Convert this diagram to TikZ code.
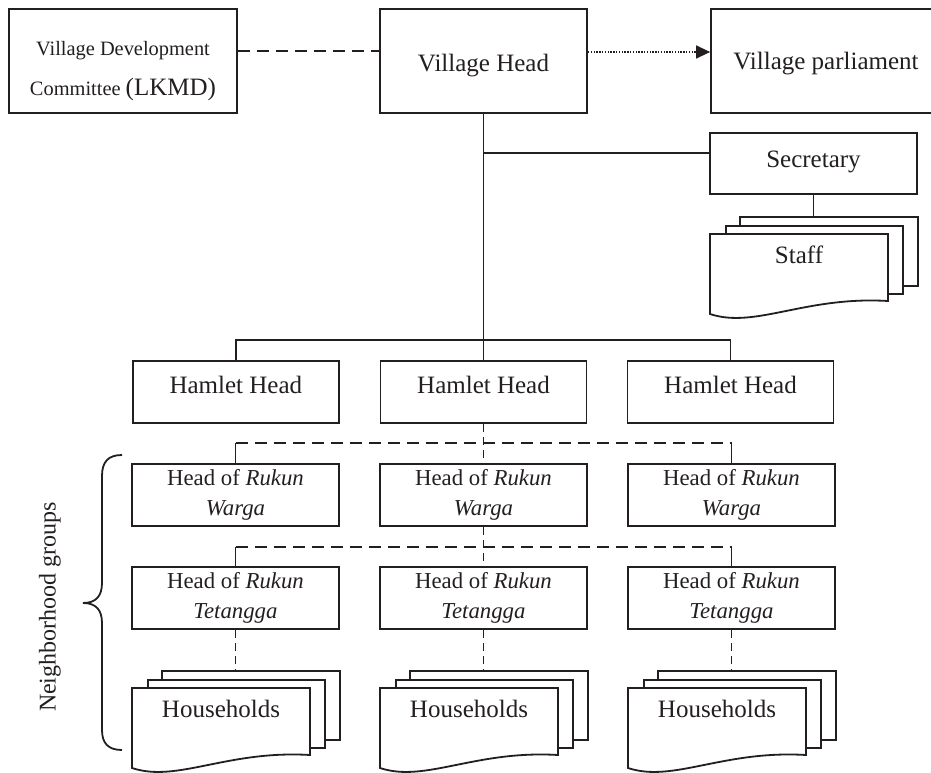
\documentclass[tikz,border=0pt]{standalone}
\usepackage{fontspec}
\setmainfont{Liberation Serif}
\usetikzlibrary{arrows.meta,calc}
\definecolor{ink}{HTML}{231F20}
\tikzset{
  box/.style={draw=ink, line width=1.8pt, fill=white, inner sep=0pt, text=ink, font=\fontsize{25pt}{30pt}\selectfont},
  twoline/.style={box, align=center, font=\fontsize{22.8pt}{30pt}\selectfont, minimum width=207pt, minimum height=62pt},
  hamlet/.style={box, minimum width=206pt, minimum height=62pt, text height=17pt, text depth=15pt},
  sheet/.style={draw=ink, line width=1.8pt, fill=white},
  conn/.style={draw=ink, line width=1.8pt},
  dashlong/.style={conn, dash pattern=on 12pt off 7pt},
  dashshort/.style={conn, dash pattern=on 8pt off 5pt},
  dotarrow/.style={conn, line width=1.4pt, dash pattern=on 1.4pt off 1.4pt, -{Triangle[length=14pt,width=13pt]}},
  lbl/.style={text=ink, inner sep=0pt, font=\fontsize{25pt}{30pt}\selectfont},
}
\newcommand\docstack[4]{%
  \node[sheet, anchor=north west, minimum width=178pt, minimum height=69pt, inner sep=0pt] (#1-back) at (#2+29,#3-18) {};
  \node[sheet, anchor=north west, minimum width=177pt, minimum height=68pt, inner sep=0pt] (#1-mid) at (#2+15,#3-9) {};
  \draw[sheet] (#2,#3) -- (#2+178,#3) -- (#2+178,#3+67) .. controls (#2+95,#3+62) and (#2+45,#3+95) .. (#2,#3+80) -- cycle;
  \node[lbl, anchor=base] (#1) at (#2+89,#3+29) {#4};
}
\begin{document}
\begin{tikzpicture}[x=1pt,y=-1pt]
\clip (0,0) rectangle (931,773);
\fill[white] (0,0) rectangle (931,773);

% top row
\node[box, minimum width=228pt, minimum height=104pt] (lkmd) at (123,61) {};
\node[lbl, anchor=north, align=center, font=\fontsize{20.4pt}{40pt}\selectfont] (lkmdtxt) at (123,41)
  {Village Development\\Committee {\fontsize{25pt}{40pt}\selectfont(LKMD)}};
\node[box, minimum width=207pt, minimum height=104pt, text height=25pt, text depth=4pt] (vh) at (483.5,61) {Village Head};
\node[box, minimum width=230pt, minimum height=104pt, text height=23pt, text depth=5pt] (vp) at (826,61) {Village parliament};
\node[box, minimum width=207pt, minimum height=61pt, text height=17pt, text depth=10pt] (sec) at (813.5,163.5) {Secretary};

\docstack{staff}{710}{234}{Staff}

% hamlets
\node[hamlet] (h1) at (235.8,392) {Hamlet Head};
\node[hamlet] (h2) at (483.5,392) {Hamlet Head};
\node[hamlet] (h3) at (730.5,392) {Hamlet Head};

% rukun warga
\node[twoline] (rw1) at (235.5,495) {Head of \textit{Rukun}\\\textit{Warga}};
\node[twoline] (rw2) at (483.5,495) {Head of \textit{Rukun}\\\textit{Warga}};
\node[twoline] (rw3) at (731.5,495) {Head of \textit{Rukun}\\\textit{Warga}};

% rukun tetangga
\node[twoline] (rt1) at (235.5,598) {Head of \textit{Rukun}\\\textit{Tetangga}};
\node[twoline] (rt2) at (483.5,598) {Head of \textit{Rukun}\\\textit{Tetangga}};
\node[twoline] (rt3) at (731.5,598) {Head of \textit{Rukun}\\\textit{Tetangga}};

% households
\docstack{hh1}{132}{688}{Households}
\docstack{hh2}{380}{688}{Households}
\docstack{hh3}{628}{688}{Households}

% connectors
\draw[dashlong] ([yshift=10pt]lkmd.east) -- ([yshift=10pt]vh.west);
\draw[dotarrow] ([yshift=9pt]vh.east) -- ([yshift=9pt]vp.west);
\draw[conn] (vh.south) -- (h2.north);
\coordinate (secin) at ([yshift=10.5pt]sec.west);
\draw[conn] (secin) -- (vh.south |- secin);
\draw[conn] (sec.south) -- (sec.south |- staff-back.north);

\coordinate (hbar) at (0,340);
\draw[conn] (h1.north) -- (h1.north |- hbar) -- (h3.north |- hbar) -- (h3.north);

\coordinate (d1) at (0,443);
\draw[dashlong] (rw1.north |- d1) -- (rw3.north |- d1);
\draw[conn] (rw1.north) -- (rw1.north |- d1);
\draw[conn] (rw3.north) -- (rw3.north |- d1);
\draw[dashshort] (h2.south) -- (rw2.north);

\coordinate (d2) at (0,547);
\draw[dashlong] (rt1.north |- d2) -- (rt3.north |- d2);
\draw[conn] (rt1.north) -- (rt1.north |- d2);
\draw[conn] (rt3.north) -- (rt3.north |- d2);
\draw[dashshort] (rw2.south) -- (rt2.north);

\draw[dashshort] (rt1.south) -- (rt1.south |- hh1-back.north);
\draw[dashshort] (rt2.south) -- (rt2.south |- hh2-back.north);
\draw[dashshort] (rt3.south) -- (rt3.south |- hh3-back.north);

% brace and label
\draw[conn] (122,455) .. controls (108,455) and (102,462) .. (102,476) -- (102,583)
  .. controls (102,596) and (96,603) .. (83,603)
  .. controls (96,603) and (102,610) .. (102,623) -- (102,730)
  .. controls (102,743) and (108,750) .. (122,750);
\node[lbl, rotate=90, font=\fontsize{24pt}{28pt}\selectfont] (ng) at (50,607) {Neighborhood groups};
\end{tikzpicture}
\end{document}
